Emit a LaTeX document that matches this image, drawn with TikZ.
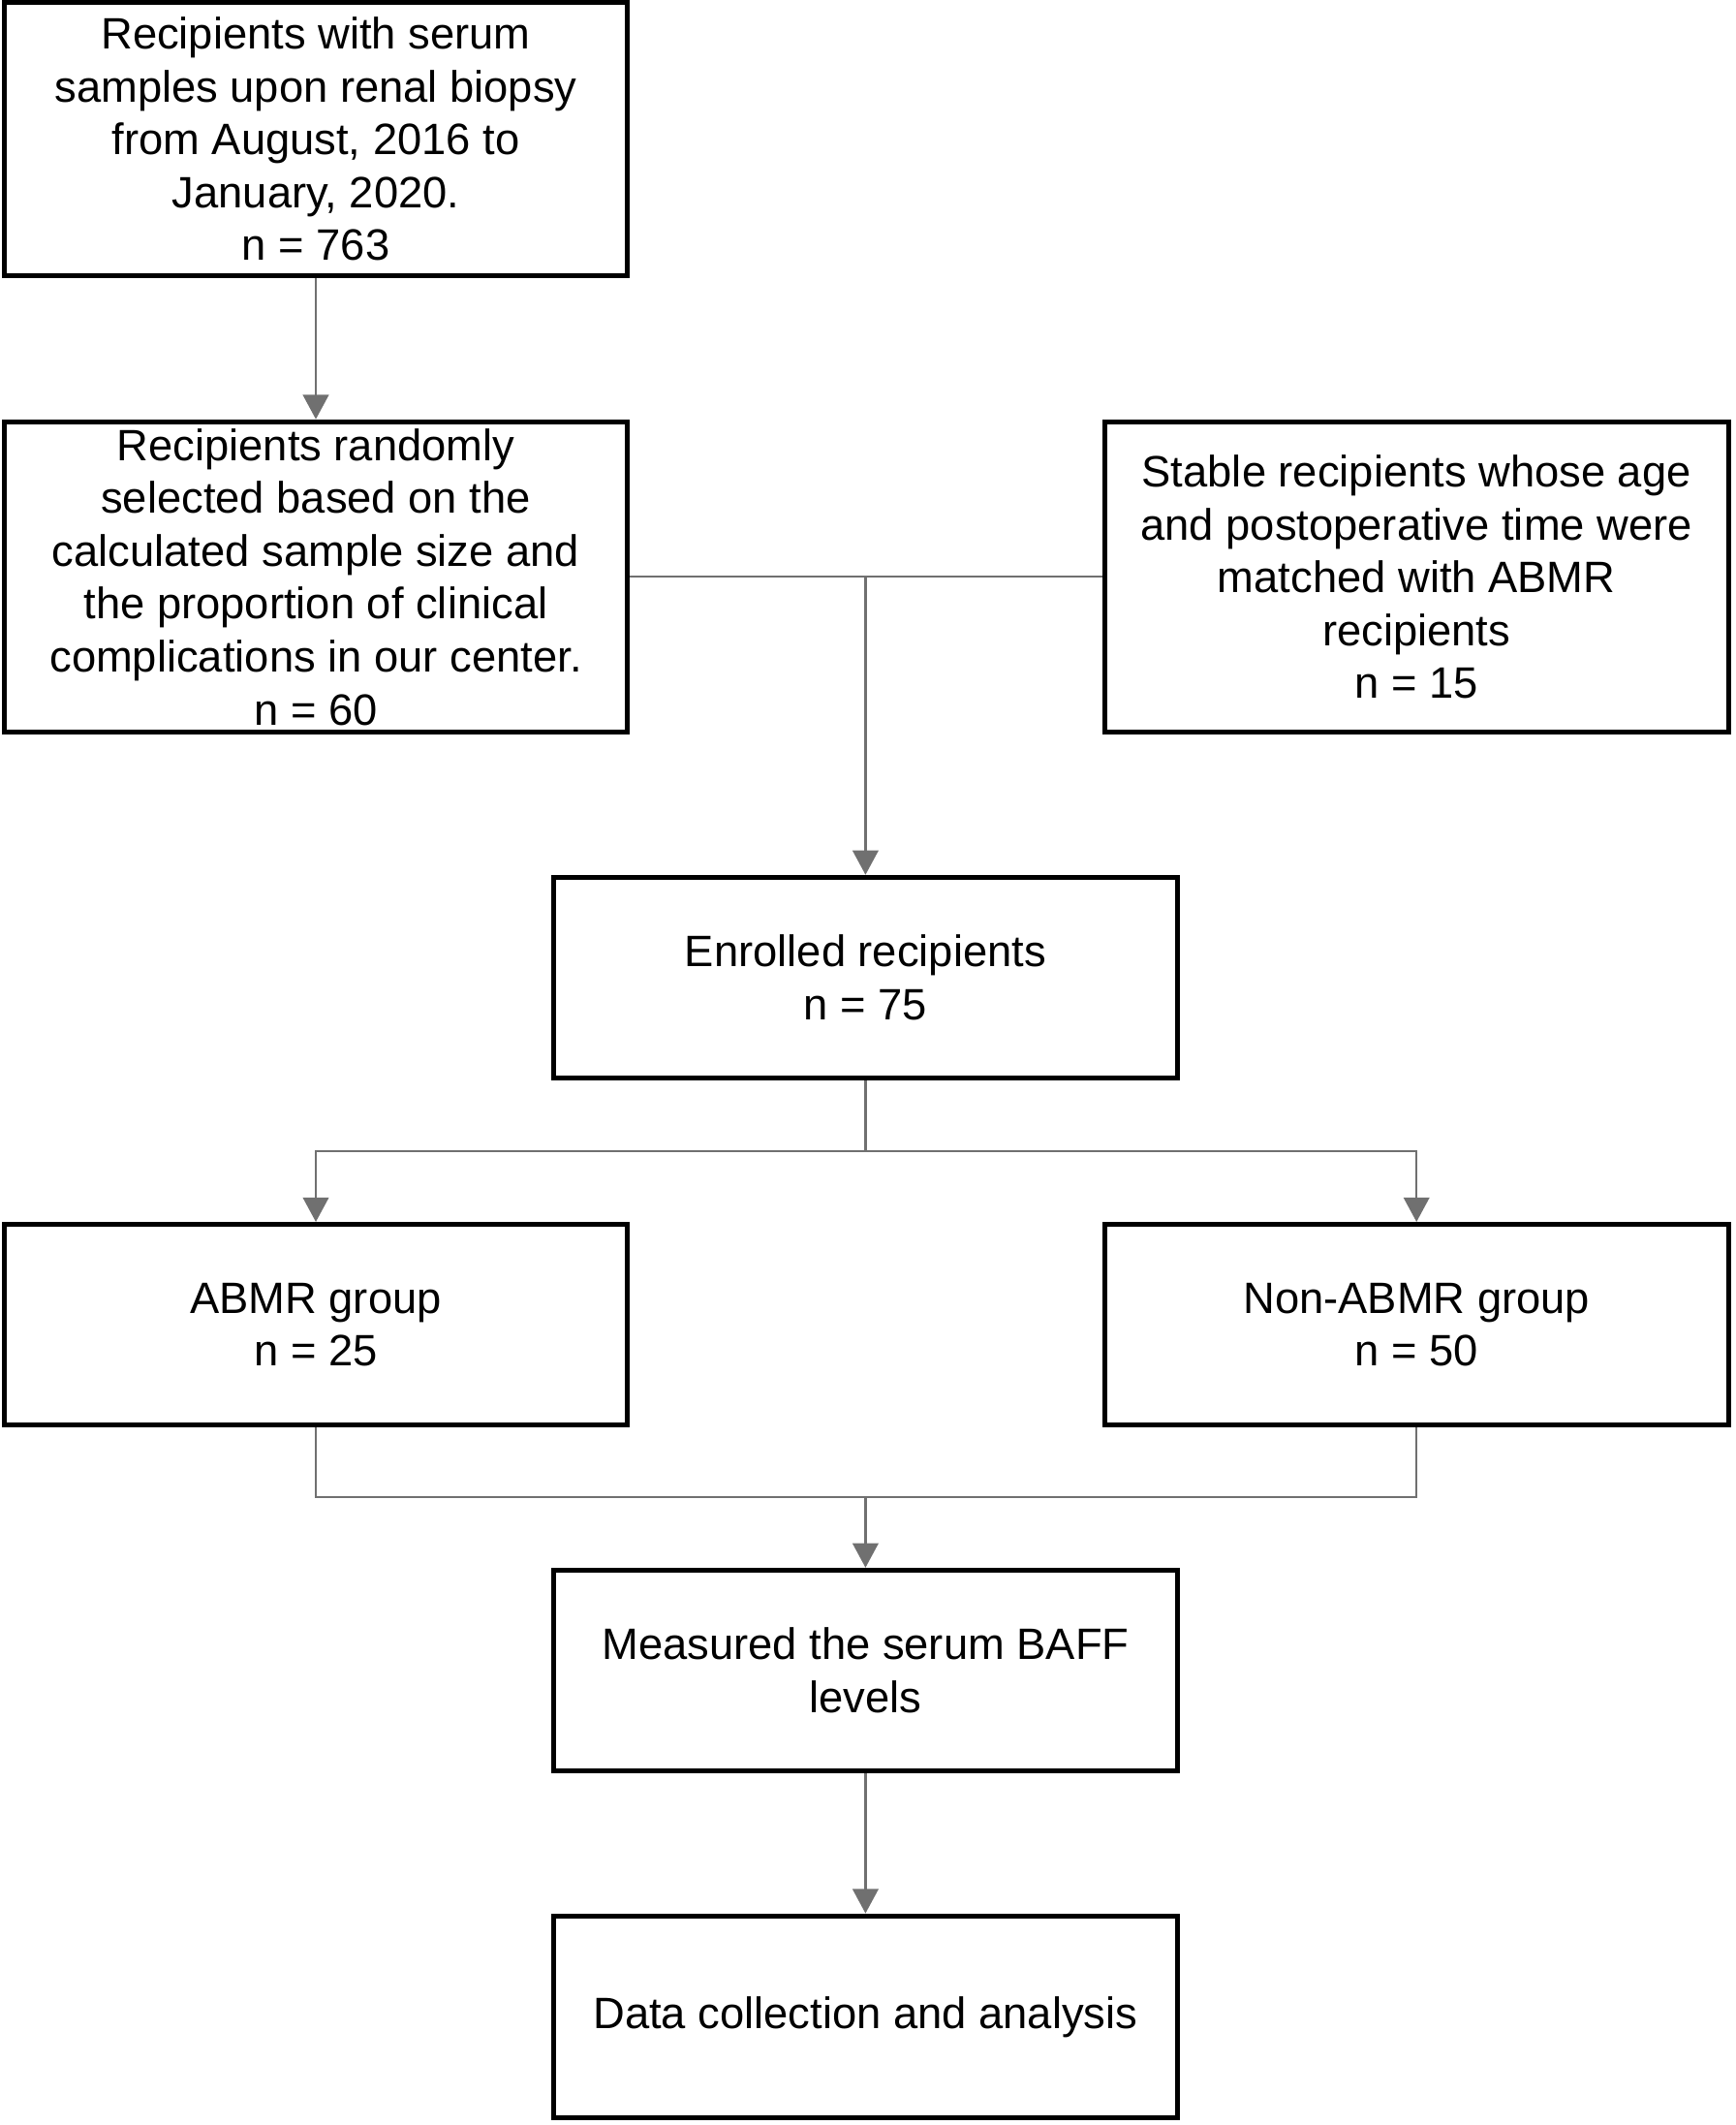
\documentclass[tikz,border=0pt]{standalone}
\usepackage{fontspec}
\setmainfont{Liberation Sans}
\usetikzlibrary{arrows.meta}
\begin{document}
\begin{tikzpicture}[x=0.5pt,y=-0.5pt,
  boxnode/.style={draw=black,line width=1.8pt,align=center,inner sep=0pt,
    minimum width=230pt,font=\fontsize{16.2}{19.5}\selectfont},
  conn/.style={draw={rgb,255:red,112;green,112;blue,112},line width=0.8pt},
  arr/.style={conn,-{Triangle[length=9pt,width=9.5pt]}}]
\useasboundingbox (0,0) rectangle (1280,1567.3);
\node[boxnode,minimum height=100.5pt] (b1) at (233,102.5) {Recipients with serum\\samples upon renal biopsy\\from August, 2016 to\\January, 2020.\\n = 763};
\node[boxnode,minimum height=114.5pt] (b2) at (233,425.5) {Recipients randomly\\selected based on the\\calculated sample size and\\the proportion of clinical\\complications in our center.\\n = 60};
\node[boxnode,minimum height=114.5pt] (b3) at (1045,425.5) {Stable recipients whose age\\and postoperative time were\\matched with ABMR\\recipients\\n = 15};
\node[boxnode,minimum height=74pt] (b4) at (638.5,721) {Enrolled recipients\\n = 75};
\node[boxnode,minimum height=74pt] (b5) at (233,977) {ABMR group\\n = 25};
\node[boxnode,minimum height=74pt] (b6) at (1045,977) {Non-ABMR group\\n = 50};
\node[boxnode,minimum height=74pt] (b7) at (638.5,1232) {Measured the serum BAFF\\levels};
\node[boxnode,minimum height=74.5pt] (b8) at (638.5,1487.5) {Data collection and analysis};
\coordinate (j1) at (b4.north |- b2.east);
\coordinate (j2) at (638.5,849);
\coordinate (j3) at (638.5,1104);
\draw[arr] (b1.south) -- (b2.north);
\draw[conn] (b2.east) -- (b3.west);
\draw[arr] (j1) -- (b4.north);
\draw[conn] (b4.south) -- (j2);
\draw[arr] (j2) -| (b5.north);
\draw[arr] (j2) -| (b6.north);
\draw[conn] (b5.south) |- (j3);
\draw[conn] (b6.south) |- (j3);
\draw[arr] (j3) -- (b7.north);
\draw[arr] (b7.south) -- (b8.north);
\end{tikzpicture}
\end{document}
